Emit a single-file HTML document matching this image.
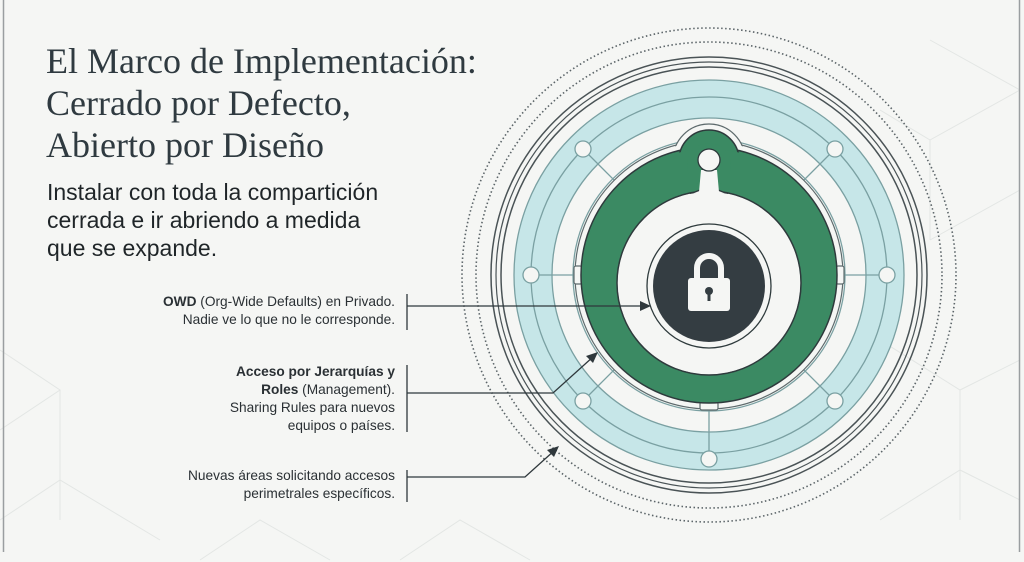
<!DOCTYPE html>
<html><head><meta charset="utf-8"><style>
html,body{margin:0;padding:0;background:#f5f6f4;}
#c{position:relative;width:1024px;height:562px;overflow:hidden;background:#f5f6f4;}
.t{position:absolute;left:46px;top:40px;font-family:"Liberation Serif",serif;font-size:36px;line-height:42px;color:#2f3a40;}
.s{position:absolute;left:47px;top:178px;font-family:"Liberation Sans",sans-serif;font-size:23px;line-height:28px;color:#1f2528;}
.l{position:absolute;right:629px;font-family:"Liberation Sans",sans-serif;font-size:13.7px;line-height:18px;color:#2a3034;text-align:right;white-space:nowrap;}
</style></head><body><div id="c">
<svg width="1024" height="562" style="position:absolute;left:0;top:0">
<g stroke="#e3e6e4" stroke-width="1" fill="none">
<path d="M930 40 L1020 90 M930 140 L1020 90 M880 110 L930 140 L930 240 M930 240 L1020 190 M880 340 L960 390 L1020 360 M960 390 L960 520 M880 520 L960 470 L1020 500 M0 350 L60 390 L0 430 M60 390 L60 520 M0 520 L60 480 L160 540 M200 560 L260 520 L330 560 M400 560 L460 520 L530 560"/>
</g>
<line x1="3.5" y1="0" x2="3.5" y2="552" stroke="#9a9ea0" stroke-width="1.5"/>
<line x1="1019.5" y1="0" x2="1019.5" y2="552" stroke="#9a9ea0" stroke-width="1.5"/>
<g fill="none">
<circle cx="709" cy="275" r="247" stroke="#5b6468" stroke-width="1.6" stroke-dasharray="1.5 2.5"/>
<circle cx="709" cy="275" r="233" stroke="#5b6468" stroke-width="1.6" stroke-dasharray="1.5 2.5"/>
<circle cx="709" cy="275" r="218" stroke="#4a5356" stroke-width="1.5"/>
<circle cx="709" cy="275" r="213" stroke="#4a5356" stroke-width="1.2"/>
<circle cx="709" cy="275" r="208" stroke="#4a5356" stroke-width="1.5"/>
<circle cx="709" cy="275" r="176" stroke="#c6e6e8" stroke-width="38"/>
<circle cx="709" cy="275" r="195" stroke="#7aa0a2" stroke-width="1.3"/>
<circle cx="709" cy="275" r="157" stroke="#7aa0a2" stroke-width="1.3"/>
<circle cx="709" cy="275" r="178" stroke="#7aa0a2" stroke-width="1.3"/>
<circle cx="709" cy="275" r="136" stroke="#7aa0a2" stroke-width="1.3"/>
</g>
<g stroke="#7aa0a2" stroke-width="1.3" fill="#f5f6f4">
<line x1="709" y1="275" x2="887" y2="275"/><line x1="709" y1="275" x2="531" y2="275"/>
<line x1="709" y1="275" x2="709" y2="459"/>
<line x1="709" y1="275" x2="583" y2="149"/><line x1="709" y1="275" x2="835" y2="149"/>
<line x1="709" y1="275" x2="583" y2="401"/><line x1="709" y1="275" x2="835" y2="401"/>
<circle cx="887" cy="275" r="8"/><circle cx="531" cy="275" r="8"/><circle cx="709" cy="459" r="8"/>
<circle cx="583" cy="149" r="8"/><circle cx="835" cy="149" r="8"/><circle cx="583" cy="401" r="8"/><circle cx="835" cy="401" r="8"/>
</g>
<circle cx="709" cy="275" r="134" fill="#f5f6f4" stroke="#5d6a6c" stroke-width="1.2"/>
<circle cx="709" cy="160" r="36" fill="#f5f6f4" stroke="#5d6a6c" stroke-width="1.2"/>
<circle cx="709" cy="275" r="133" fill="#f5f6f4"/>
<g fill="#f5f6f4" stroke="#5d6a6c" stroke-width="1.2">
<rect x="836" y="266" width="8" height="18" rx="2"/><rect x="574" y="266" width="8" height="18" rx="2"/>
<rect x="700" y="402" width="18" height="8" rx="2"/>
</g>
<circle cx="709" cy="275" r="128" fill="#3b8a63" stroke="#2e3a3c" stroke-width="1.5"/>
<circle cx="709" cy="160" r="30" fill="#3b8a63" stroke="#2e3a3c" stroke-width="1.5"/>
<circle cx="709" cy="275" r="126" fill="#3b8a63"/>
<circle cx="709" cy="165" r="22" fill="#3b8a63"/>
<circle cx="709" cy="283" r="92" fill="#f5f6f4" stroke="#2e3a3c" stroke-width="1.5"/>
<path d="M703 165 L700 190 L690 194 L728 194 L718 190 L715 165 Z" fill="#f5f6f4" stroke="#2e3a3c" stroke-width="1.3"/>
<circle cx="709" cy="283" r="91" fill="#f5f6f4"/>
<path d="M701 170 L699 192 L719 192 L717 170Z" fill="#f5f6f4"/>
<circle cx="709" cy="160" r="11" fill="#f5f6f4" stroke="#2e3a3c" stroke-width="1.3"/>
<circle cx="709" cy="286" r="62" fill="#f5f6f4" stroke="#2e3a3c" stroke-width="1.3"/>
<circle cx="709" cy="286" r="56" fill="#343d42"/>
<path d="M697 279 V268 a12 12 0 0 1 24 0 V279" fill="none" stroke="#f5f6f4" stroke-width="6"/>
<rect x="688" y="278" width="42" height="33" rx="3" fill="#f5f6f4"/>
<circle cx="709" cy="291" r="4" fill="#343d42"/><rect x="707.5" y="292" width="3" height="9" fill="#343d42"/>
<g stroke="#2f383c" stroke-width="1.3" fill="none">
<line x1="407" y1="294" x2="407" y2="330"/><line x1="407" y1="306" x2="644" y2="306"/>
<line x1="407" y1="365" x2="407" y2="432"/><polyline points="407,393 553,393 594,356"/>
<line x1="407" y1="470" x2="407" y2="502"/><polyline points="407,477 525,477 555,450"/>
</g>
<g fill="#2f383c">
<path d="M651 306 L640 301 L640 311Z"/>
<path d="M598 352 L586 356 L593 363Z"/>
<path d="M559 446 L547 450 L554 457Z"/>
</g>
</svg>
<div class="t">El Marco de Implementación:<br>Cerrado por Defecto,<br>Abierto por Diseño</div>
<div class="s">Instalar con toda la compartición<br>cerrada e ir abriendo a medida<br>que se expande.</div>
<div class="l" style="top:293px"><b>OWD</b> (Org-Wide Defaults) en Privado.<br>Nadie ve lo que no le corresponde.</div>
<div class="l" style="top:363px"><b>Acceso por Jerarquías y<br>Roles</b> (Management).<br>Sharing Rules para nuevos<br>equipos o países.</div>
<div class="l" style="top:467px">Nuevas áreas solicitando accesos<br>perimetrales específicos.</div>
</div></body></html>
